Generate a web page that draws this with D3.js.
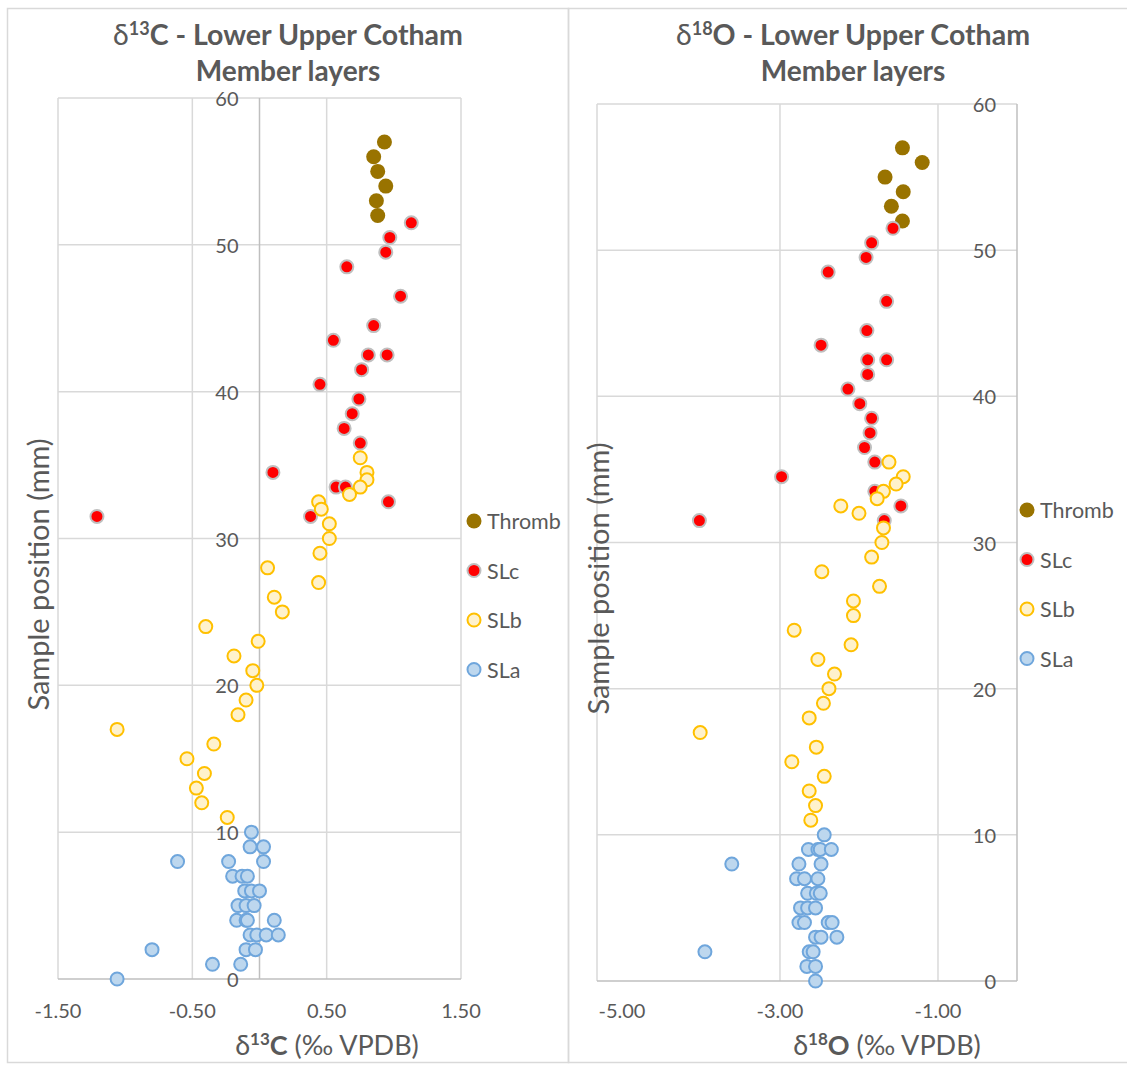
<!DOCTYPE html>
<html><head><meta charset="utf-8">
<script src="https://cdn.jsdelivr.net/npm/d3@7"></script>
<style>
html,body{margin:0;padding:0;background:#fff;}
svg{display:block;font-family:Lato,"Open Sans",sans-serif;}
</style></head>
<body>
<svg id="chart" width="1127" height="1065"></svg>
<script>
// ---- data: [value, sample position (mm)] ----
const c13Thromb = [[0.93,57],[0.85,56],[0.88,55],[0.94,54],[0.87,53],[0.88,52]];
const c13SLc = [[1.13,51.5],[0.97,50.5],[0.94,49.5],[0.65,48.5],[1.05,46.5],[0.85,44.5],[0.55,43.5],[0.81,42.5],[0.95,42.5],[0.76,41.5],[0.45,40.5],[0.74,39.5],[0.69,38.5],[0.63,37.5],[0.75,36.5],[0.10,34.5],[0.57,33.5],[0.64,33.5],[0.96,32.5],[0.38,31.5],[-1.21,31.5]];
const c13SLb = [[0.75,35.5],[0.80,34.5],[0.80,34],[0.75,33.5],[0.67,33],[0.44,32.5],[0.46,32],[0.52,31],[0.52,30],[0.45,29],[0.06,28],[0.44,27],[0.11,26],[0.17,25],[-0.40,24],[-0.01,23],[-0.19,22],[-0.05,21],[-0.02,20],[-0.10,19],[-0.16,18],[-1.06,17],[-0.34,16],[-0.54,15],[-0.41,14],[-0.47,13],[-0.43,12],[-0.24,11]];
const c13SLa = [[-0.06,10],[-0.07,9],[0.03,9],[-0.61,8],[-0.23,8],[0.03,8],[-0.20,7],[-0.13,7],[-0.09,7],[-0.11,6],[-0.06,6],[0.0,6],[-0.16,5],[-0.10,5],[-0.04,5],[-0.17,4],[-0.10,4],[-0.09,4],[0.11,4],[-0.07,3],[-0.02,3],[0.05,3],[0.14,3],[-0.80,2],[-0.10,2],[-0.03,2],[-0.35,1],[-0.14,1],[-1.06,0]];

const o18Thromb = [[-1.45,57],[-1.20,56],[-1.67,55],[-1.44,54],[-1.59,53],[-1.45,52]];
const o18SLc = [[-1.57,51.5],[-1.84,50.5],[-1.91,49.5],[-2.39,48.5],[-1.65,46.5],[-1.90,44.5],[-2.48,43.5],[-1.89,42.5],[-1.65,42.5],[-1.89,41.5],[-2.14,40.5],[-1.99,39.5],[-1.84,38.5],[-1.86,37.5],[-1.93,36.5],[-1.80,35.5],[-2.98,34.5],[-1.80,33.5],[-1.47,32.5],[-1.68,31.5],[-4.02,31.5]];
const o18SLb = [[-1.62,35.5],[-1.44,34.5],[-1.53,34],[-1.69,33.5],[-1.77,33],[-2.23,32.5],[-2.00,32],[-1.69,31],[-1.71,30],[-1.84,29],[-2.47,28],[-1.74,27],[-2.07,26],[-2.07,25],[-2.82,24],[-2.10,23],[-2.52,22],[-2.31,21],[-2.38,20],[-2.45,19],[-2.63,18],[-4.01,17],[-2.54,16],[-2.85,15],[-2.44,14],[-2.63,13],[-2.55,12],[-2.61,11]];
const o18SLa = [[-2.44,10],[-2.64,9],[-2.52,9],[-2.49,9],[-2.35,9],[-3.61,8],[-2.76,8],[-2.48,8],[-2.79,7],[-2.69,7],[-2.52,7],[-2.65,6],[-2.54,6],[-2.49,6],[-2.74,5],[-2.65,5],[-2.55,5],[-2.76,4],[-2.69,4],[-2.39,4],[-2.34,4],[-2.55,3],[-2.48,3],[-2.28,3],[-3.95,2],[-2.63,2],[-2.58,2],[-2.66,1],[-2.55,1],[-2.55,0]];

const seriesNames = ["Thromb","SLc","SLb","SLa"];
const yTicks = [0,10,20,30,40,50,60];
const c13Ticks = [-1.5,-0.5,0.5,1.5];
const o18Ticks = [-5,-3,-1];

// ---- styles ----
const styles = {
  Thromb:{fill:"#997300",stroke:"#997300",sw:0,r:7.5},
  SLc:{fill:"#ff0000",stroke:"#bfbfbf",sw:2,r:6.5},
  SLb:{fill:"#fff2cc",stroke:"#ffc000",sw:2,r:6.5},
  SLa:{fill:"#bdd7ee",stroke:"#6fa6dc",sw:2,r:6.5}
};
const txt = "#595959", grid = "#d9d9d9", axisCol = "#bfbfbf";
const fmt = d => d.toFixed(2); // keeps ASCII hyphen-minus like the reference

const svg = d3.select("#chart");
svg.append("rect").attr("x",7.5).attr("y",8.5).attr("width",561).attr("height",1054)
  .attr("fill","none").attr("stroke","#d9d9d9").attr("stroke-width",1.5);
svg.append("rect").attr("x",568.5).attr("y",8.5).attr("width",600).attr("height",1054)
  .attr("fill","none").attr("stroke","#d9d9d9").attr("stroke-width",1.5);

function drawChart(cfg){
  const g = svg.append("g");
  const x = d3.scaleLinear().domain(cfg.xDomain).range([cfg.x0,cfg.x1]);
  const y = d3.scaleLinear().domain([0,60]).range([cfg.y0,cfg.y1]);

  g.selectAll(".hg").data(yTicks.filter(d=>d>0)).join("line")
    .attr("x1",cfg.x0).attr("x2",cfg.x1).attr("y1",d=>y(d)).attr("y2",d=>y(d))
    .attr("stroke",grid).attr("stroke-width",1.5);
  g.selectAll(".vg").data(cfg.vGrid).join("line")
    .attr("x1",d=>x(d)).attr("x2",d=>x(d)).attr("y1",cfg.y1).attr("y2",cfg.y0)
    .attr("stroke",grid).attr("stroke-width",1.5);
  g.append("line").attr("x1",x(0)).attr("x2",x(0)).attr("y1",cfg.y1).attr("y2",cfg.y0)
    .attr("stroke",axisCol).attr("stroke-width",1.5);
  g.append("line").attr("x1",cfg.x0).attr("x2",cfg.x1).attr("y1",y(0)).attr("y2",y(0))
    .attr("stroke",axisCol).attr("stroke-width",1.5);

  g.selectAll(".yl").data(yTicks).join("text")
    .attr("x",x(0)-21).attr("y",d=>y(d)).attr("text-anchor","end")
    .attr("dominant-baseline","central").attr("font-size",20).attr("fill",txt)
    .text(d=>d);
  g.selectAll(".xl").data(cfg.xTicks).join("text")
    .attr("x",d=>x(d)).attr("y",1010).attr("text-anchor","middle")
    .attr("dominant-baseline","central").attr("font-size",20).attr("fill",txt)
    .text(fmt);

  ["Thromb","SLc","SLb","SLa"].forEach(name=>{
    const s = styles[name];
    g.append("g").selectAll("circle").data(cfg.data[name]).join("circle")
      .attr("cx",d=>x(d[0])).attr("cy",d=>y(d[1])).attr("r",s.r)
      .attr("fill",s.fill).attr("stroke",s.stroke).attr("stroke-width",s.sw);
  });

  const t1 = g.append("text").attr("x",cfg.titleX).attr("y",45).attr("text-anchor","middle")
    .attr("font-size",28.5).attr("font-weight","bold").attr("fill",txt);
  t1.append("tspan").text("δ").attr("font-weight","normal");
  t1.append("tspan").text(cfg.iso).attr("font-size",18).attr("dy",-10);
  t1.append("tspan").text(cfg.el+" - Lower Upper Cotham").attr("dy",10);
  g.append("text").attr("x",cfg.titleX).attr("y",81).attr("text-anchor","middle")
    .attr("font-size",28).attr("font-weight","bold").attr("fill",txt).text("Member layers");

  const xt = g.append("text").attr("x",cfg.xTitleX).attr("y",1055).attr("text-anchor","middle")
    .attr("font-size",27).attr("fill",txt);
  xt.append("tspan").text("δ");
  xt.append("tspan").text(cfg.iso).attr("font-size",17).attr("font-weight","bold").attr("dy",-10);
  xt.append("tspan").text(cfg.el).attr("font-weight","bold").attr("dy",10);
  xt.append("tspan").text(" (‰ VPDB)");

  g.append("text").attr("transform",`translate(${cfg.yTitleX},${(cfg.y0+cfg.y1)/2+36}) rotate(-90)`)
    .attr("text-anchor","middle").attr("dominant-baseline","central")
    .attr("font-size",29).attr("fill",txt).text("Sample position (mm)");

  seriesNames.forEach((name,i)=>{
    const s = styles[name];
    const ly = cfg.legY + i*49.5;
    g.append("circle").attr("cx",cfg.legX).attr("cy",ly).attr("r",s.r)
      .attr("fill",s.fill).attr("stroke",s.stroke).attr("stroke-width",s.sw);
    g.append("text").attr("x",cfg.legX+13).attr("y",ly).attr("dominant-baseline","central")
      .attr("font-size",21.5).attr("fill",txt).text(name);
  });
}

drawChart({
  xDomain:[-1.5,1.5], x0:58, x1:461, y0:979, y1:98,
  vGrid:c13Ticks, xTicks:c13Ticks,
  data:{Thromb:c13Thromb,SLc:c13SLc,SLb:c13SLb,SLa:c13SLa},
  iso:"13", el:"C", titleX:288, xTitleX:327, yTitleX:37,
  legX:474, legY:521
});
drawChart({
  xDomain:[-5.316,0], x0:597, x1:1017, y0:981, y1:104,
  vGrid:[-5.316,-3,-1], xTicks:o18Ticks,
  data:{Thromb:o18Thromb,SLc:o18SLc,SLb:o18SLb,SLa:o18SLa},
  iso:"18", el:"O", titleX:853, xTitleX:887, yTitleX:597,
  legX:1027, legY:510
});
</script>
</body></html>
